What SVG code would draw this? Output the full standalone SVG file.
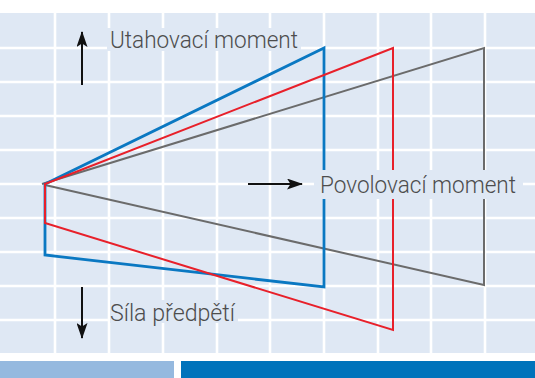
<svg xmlns="http://www.w3.org/2000/svg" width="535" height="378" viewBox="0 0 535 378">
  <style>
    .grid line { stroke: #ffffff; stroke-width: 2.6; }
    .lbl { font-family: Roboto, "Liberation Sans", Arial, sans-serif; font-weight: 300; font-size: 23px; fill: #4d4d4d; }
    .halo { fill: #dfe8f4; }
    .shape { fill: none; stroke-linejoin: miter; }
    .arrow { stroke: #111111; stroke-width: 2; fill: none; }
  </style>
  <defs>
    <marker id="ah" viewBox="0 0 16 11" refX="15" refY="5.5" markerWidth="16" markerHeight="11" markerUnits="userSpaceOnUse" orient="auto">
      <path d="M0,0 L16,5.5 L0,11 L3.5,5.5 Z" fill="#111111"/>
    </marker>
  </defs>
  <rect x="0" y="0" width="535" height="378" fill="#ffffff"/>
  <rect x="0" y="13" width="535" height="340" fill="#dfe8f4"/>
  <g class="grid">
    <line x1="55" y1="13" x2="55" y2="353"/>
    <line x1="109" y1="13" x2="109" y2="353"/>
    <line x1="163" y1="13" x2="163" y2="353"/>
    <line x1="217" y1="13" x2="217" y2="353"/>
    <line x1="270" y1="13" x2="270" y2="353"/>
    <line x1="324" y1="13" x2="324" y2="353"/>
    <line x1="378" y1="13" x2="378" y2="353"/>
    <line x1="431" y1="13" x2="431" y2="353"/>
    <line x1="485" y1="13" x2="485" y2="353"/>
    <line x1="0" y1="48" x2="535" y2="48"/>
    <line x1="0" y1="82" x2="535" y2="82"/>
    <line x1="0" y1="116" x2="535" y2="116"/>
    <line x1="0" y1="150" x2="535" y2="150"/>
    <line x1="0" y1="184" x2="535" y2="184"/>
    <line x1="0" y1="218" x2="535" y2="218"/>
    <line x1="0" y1="252" x2="535" y2="252"/>
    <line x1="0" y1="286" x2="535" y2="286"/>
    <line x1="0" y1="320" x2="535" y2="320"/>
  </g>
  <g id="curves">
    <path id="gray" class="shape" d="M42,184 L484,48 L484,285 L45,185" stroke="#6b6b6b" stroke-width="2"/>
    <path id="blue" class="shape" d="M45,184 L324,48 L324,287 L45,255 Z" stroke="#0a78c2" stroke-width="2.8"/>
    <path id="red" class="shape" d="M45,184 L393,48 L393,330 L45,223 Z" stroke="#e8202a" stroke-width="2"/>
  </g>
  <g id="connectors">
    <line class="arrow" x1="82" y1="85" x2="82" y2="32" marker-end="url(#ah)"/>
    <line class="arrow" x1="82" y1="287" x2="82" y2="338" marker-end="url(#ah)"/>
    <line class="arrow" x1="248" y1="184" x2="302" y2="184" marker-end="url(#ah)"/>
  </g>
  <g id="label-utahovaci">
    <rect class="halo" x="107" y="28" width="194" height="23"/>
    <text class="lbl" x="110" y="48" textLength="188" lengthAdjust="spacingAndGlyphs">Utahovací moment</text>
  </g>
  <g id="label-povolovaci">
    <rect class="halo" x="314" y="170" width="209" height="29"/>
    <text class="lbl" x="320" y="193" textLength="196" lengthAdjust="spacingAndGlyphs">Povolovací moment</text>
  </g>
  <g id="label-sila">
    <rect class="halo" x="110" y="300" width="128" height="23"/>
    <text class="lbl" x="110" y="321" textLength="125" lengthAdjust="spacingAndGlyphs">Síla předpětí</text>
  </g>
  <g id="bottom-bars">
    <rect x="0" y="361" width="174" height="17" fill="#95b9df"/>
    <rect x="181" y="361" width="354" height="17" fill="#0073bb"/>
  </g>
</svg>
